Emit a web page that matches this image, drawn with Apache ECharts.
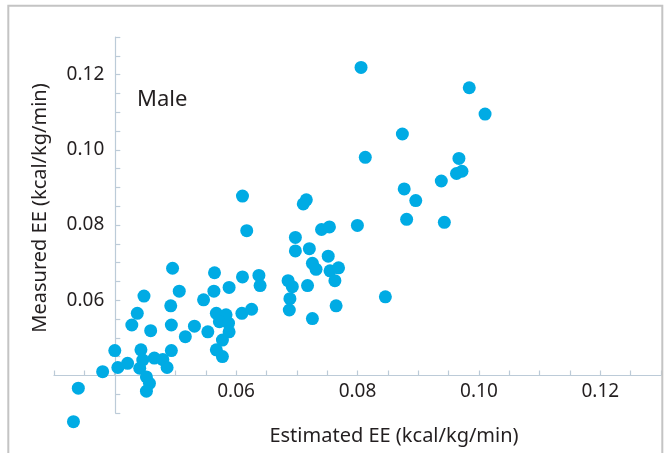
<!DOCTYPE html>
<html>
<head>
<meta charset="utf-8">
<script src="https://cdn.jsdelivr.net/npm/echarts@6/dist/echarts.min.js"></script>
<style>
  html, body { margin: 0; padding: 0; background: #fff; }
  #chart { width: 664px; height: 453px; }
</style>
</head>
<body>
<div id="chart"></div>
<script>
// Estimated vs measured energy expenditure, males (kcal/kg/min)
var estimatedEE = [
  0.0332, 0.0340, 0.0380, 0.0400, 0.0405, 0.0421, 0.0443, 0.0446, 0.0441, 0.0452,
  0.0457, 0.0452, 0.0465, 0.0479, 0.0486, 0.0493, 0.0428, 0.0437, 0.0448, 0.0459,
  0.0492, 0.0493, 0.0506, 0.0516, 0.0531, 0.0546, 0.0563, 0.0553, 0.0567, 0.0583,
  0.0572, 0.0587, 0.0588, 0.0577, 0.0567, 0.0577, 0.0609, 0.0625, 0.0588, 0.0610,
  0.0637, 0.0639, 0.0610, 0.0617, 0.0564, 0.0495,
  0.0715, 0.0710, 0.0697, 0.0697, 0.0720, 0.0740, 0.0753, 0.0751, 0.0725, 0.0731,
  0.0754, 0.0768, 0.0762, 0.0685, 0.0692, 0.0717, 0.0688, 0.0687, 0.0764, 0.0725,
  0.0845, 0.0799,
  0.0805, 0.0983, 0.1009, 0.0873, 0.0812, 0.0966, 0.0971, 0.0962, 0.0937, 0.0876,
  0.0895, 0.0880, 0.0942
];
var measuredEE = [
  0.0277, 0.0366, 0.0410, 0.0466, 0.0421, 0.0432, 0.0468, 0.0441, 0.0419, 0.0396,
  0.0379, 0.0358, 0.0446, 0.0442, 0.0421, 0.0466, 0.0534, 0.0565, 0.0611, 0.0519,
  0.0585, 0.0534, 0.0624, 0.0503, 0.0531, 0.0601, 0.0624, 0.0516, 0.0565, 0.0561,
  0.0543, 0.0539, 0.0516, 0.0494, 0.0468, 0.0450, 0.0565, 0.0576, 0.0634, 0.0662,
  0.0666, 0.0639, 0.0877, 0.0785, 0.0673, 0.0685,
  0.0867, 0.0856, 0.0767, 0.0731, 0.0737, 0.0788, 0.0795, 0.0717, 0.0698, 0.0682,
  0.0678, 0.0686, 0.0652, 0.0652, 0.0636, 0.0639, 0.0604, 0.0574, 0.0585, 0.0551,
  0.0609, 0.0799,
  0.1219, 0.1165, 0.1095, 0.1042, 0.0980, 0.0977, 0.0943, 0.0937, 0.0917, 0.0896,
  0.0865, 0.0815, 0.0807
];
var tickLabels = ['0.06', '0.08', '0.10', '0.12'];
var groupLabel = 'Male';
var xName = 'Estimated EE (kcal/kg/min)';
var yName = 'Measured EE (kcal/kg/min)';

var points = estimatedEE.map(function(x, i) { return [x, measuredEE[i]]; });

var font = "'Noto Sans', sans-serif";
var axisColor = '#bccbd8';
var textColor = '#231f20';

function tickFormatter(v) {
  var s = v.toFixed(2);
  var onHundredth = Math.abs(v * 100 - Math.round(v * 100)) < 1e-6;
  return (onHundredth && tickLabels.indexOf(s) >= 0) ? s : '';
}

var hiddenAxis = { type: 'value', min: 0.03, max: 0.13, show: false };

var chart = echarts.init(document.getElementById('chart'), null, { renderer: 'canvas' });
chart.setOption({
  animation: false,
  grid: [
    { left: 54, right: 2, top: 37, bottom: 40 },          // data
    { left: 54, right: 2, top: 37, bottom: 77.5 },        // x axis, crossing at 0.04
    { left: 115.3, right: 2, top: 37, bottom: 40 }        // y axis, crossing at 0.04
  ],
  xAxis: [
    Object.assign({ gridIndex: 0 }, hiddenAxis),
    {
      gridIndex: 1, type: 'value', min: 0.03, max: 0.13, interval: 0.005,
      position: 'bottom',
      axisLine: { show: true, lineStyle: { color: axisColor, width: 1.2 } },
      axisTick: { show: true, inside: true, length: 5, lineStyle: { color: axisColor, width: 1.2 } },
      axisLabel: { formatter: tickFormatter, margin: 7, fontSize: 19, fontFamily: font, color: textColor,
                   showMinLabel: true, showMaxLabel: true },
      splitLine: { show: false }
    },
    { gridIndex: 2, type: 'value', min: 0, max: 1, show: false }
  ],
  yAxis: [
    Object.assign({ gridIndex: 0 }, hiddenAxis),
    { gridIndex: 1, type: 'value', min: 0, max: 1, show: false },
    {
      gridIndex: 2, type: 'value', min: 0.03, max: 0.13, interval: 0.005,
      position: 'left',
      axisLine: { show: true, lineStyle: { color: axisColor, width: 1.2 } },
      axisTick: { show: true, inside: true, length: 5, lineStyle: { color: axisColor, width: 1.2 } },
      axisLabel: { formatter: tickFormatter, margin: 11, fontSize: 19, fontFamily: font, color: textColor,
                   padding: [5, 0, 0, 0] },
      splitLine: { show: false }
    }
  ],
  series: [{
    type: 'scatter',
    xAxisIndex: 0, yAxisIndex: 0,
    clip: false,
    data: points,
    symbol: 'circle',
    symbolSize: 13,
    itemStyle: { color: '#00abe4', opacity: 1 }
  }],
  graphic: [
    { type: 'rect', shape: { x: 8.3, y: 5.8, width: 654, height: 470 },
      style: { fill: 'none', stroke: '#c4c4c4', lineWidth: 2 }, z: 100, silent: true },
    { type: 'text', x: 137, y: 100,
      style: { text: groupLabel, font: '22px ' + font, fill: textColor, textVerticalAlign: 'middle' } },
    { type: 'text', x: 394, y: 436,
      style: { text: xName, font: '20px ' + font, fill: textColor, textAlign: 'center', textVerticalAlign: 'middle' } },
    { type: 'text', x: 40, y: 208, rotation: Math.PI / 2,
      style: { text: yName, font: '20px ' + font, fill: textColor, textAlign: 'center', textVerticalAlign: 'middle' } }
  ]
});
</script>
</body>
</html>
